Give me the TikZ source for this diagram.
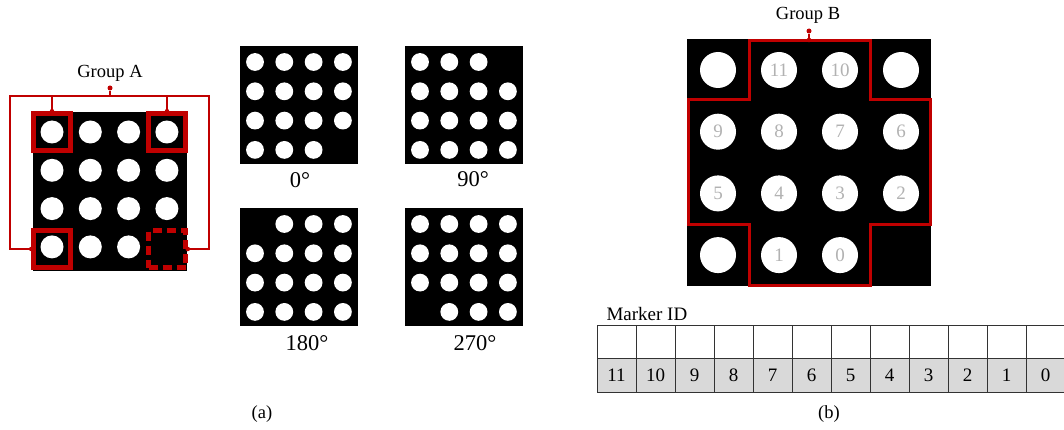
\documentclass[tikz,border=0pt]{standalone}
\usepackage{fontspec}
\setmainfont{Liberation Serif}
\definecolor{markred}{RGB}{192,0,0}
\definecolor{idgray}{RGB}{217,217,217}
\begin{document}
\begin{tikzpicture}[x=1pt, y=-1pt, every node/.style={font=\fontsize{18.5}{20}\selectfont},
    redbox/.style={draw=markred, line width=4.5pt, minimum size=37pt, inner sep=0pt},
    bracket/.style={draw=markred, line width=1.3pt},
    joint/.style={circle, fill=markred, minimum size=5pt, inner sep=0pt},
    bitdot/.style={circle, fill=white, minimum size=36pt, inner sep=0pt, text=black!30,
        font=\fontsize{19}{20}\selectfont},
    idcell/.style={draw=black!80, line width=0.8pt, minimum width=39pt, inner sep=0pt,
        font=\fontsize{19}{20}\selectfont}]
\useasboundingbox (0,0) rectangle (1064,430);

% (a) group A on the full marker
\fill (33,112) rectangle (187,271);
\foreach \i in {0,...,3} \foreach \j in {0,...,3} {
    \pgfmathtruncatemacro{\k}{4*\j+\i}
    \ifnum\k<15 \fill[white] (52+38.3*\i,132+38.3*\j) circle (11.5); \fi
}
\node[redbox] (tl) at (52,132) {};
\node[redbox] (tr) at (167,132) {};
\node[redbox] (bl) at (52,249) {};
\node[redbox, dash pattern=on 9pt off 5pt] (br) at (167,249) {};
\node (groupa) at (110,73) {Group A};
\node[joint] (topa) at (110,88) {};
\coordinate (ha) at (110,96);
\draw[bracket] (bl.west) -| (10,96) -- (209,96) |- (br.east);
\draw[bracket] (tl.north) -- (tl.north |- ha);
\draw[bracket] (tr.north) -- (tr.north |- ha);
\draw[bracket] (topa) -- (ha);
\foreach \a in {tl.north, tr.north, bl.west, br.east} \fill[markred] (\a) circle (2.3);

% the four rotations
\foreach \ox/\oy/\mi/\mj/\ang/\lx/\ly in {240/46/3/3/0/300/180, 405/46/3/0/90/473/179,
        240/208/0/0/180/307/343, 405/208/0/3/270/475/343} {
    \fill (\ox,\oy) rectangle +(118,118);
    \pgfmathtruncatemacro{\m}{4*\mj+\mi}
    \foreach \i in {0,...,3} \foreach \j in {0,...,3} {
        \pgfmathtruncatemacro{\k}{4*\j+\i}
        \ifnum\k=\m\else \fill[white] (\ox+15+29.3*\i,\oy+16+29.3*\j) circle (8.9); \fi
    }
    \node[font=\fontsize{22.5}{24}\selectfont] (rot\ang) at (\lx,\ly) {\ang°};
}

% (b) group B bits
\fill (687,39) rectangle (931,286);
\foreach \i/\j in {0/0, 3/0, 0/3} \fill[white] (718+61*\i,70+61.7*\j) circle (18);
\foreach \n/\i/\j in {11/1/0, 10/2/0, 9/0/1, 8/1/1, 7/2/1, 6/3/1,
        5/0/2, 4/1/2, 3/2/2, 2/3/2, 1/1/3, 0/2/3}
    \node[bitdot] (bit\n) at (718+61*\i,70+61.7*\j) {\n};
\draw[markred, line width=3pt] (749,41) -- (870,41) -- (870,100) -- (930,100) -- (930,225)
    -- (870,225) -- (870,285) -- (749,285) -- (749,225) -- (688,225) -- (688,100)
    -- (749,100) -- cycle;
\node (groupb) at (808,15) {Group B};
\node[joint] (topb) at (809,31) {};
\coordinate (hb) at (809,40);
\draw[bracket] (topb) -- (hb);
\fill[markred] (hb) circle (2.3);

% marker ID table
\node[anchor=west, font=\fontsize{19}{20}\selectfont] (idlabel) at (603,314) {Marker ID};
\foreach \c in {0,...,11} {
    \pgfmathtruncatemacro{\n}{11-\c}
    \node[idcell, minimum height=33pt] (cellt\c) at (616.5+39*\c,341.5) {};
    \node[idcell, minimum height=34pt, fill=idgray] (cellb\c) at (616.5+39*\c,375) {\n};
}

\node (capa) at (262,414) {(a)};
\node (capb) at (829,414) {(b)};
\end{tikzpicture}
\end{document}
